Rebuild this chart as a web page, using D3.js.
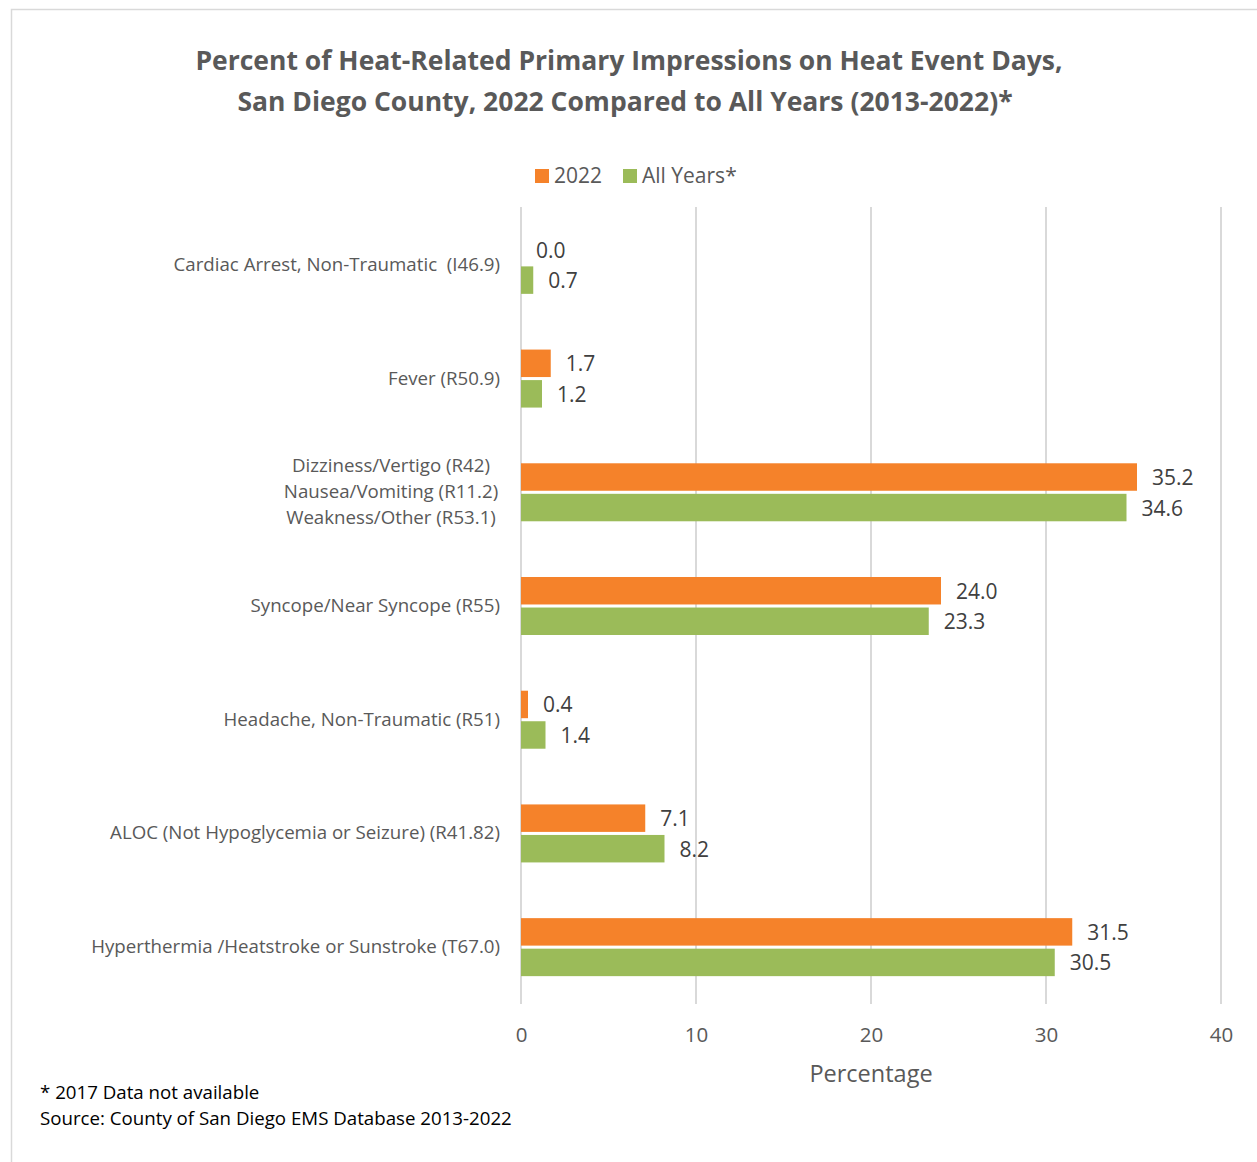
<!DOCTYPE html>
<html>
<head>
<meta charset="utf-8">
<script src="https://cdn.jsdelivr.net/npm/d3@7"></script>
<style>
  body { margin: 0; background: #fff; }
  text { font-family: "Open Sans", sans-serif; }
</style>
</head>
<body>
<script>
// categories (top to bottom)
var categories = [
  "Cardiac Arrest, Non-Traumatic  (I46.9)",
  "Fever (R50.9)",
  "Dizziness/Vertigo (R42)\nNausea/Vomiting (R11.2)\nWeakness/Other (R53.1)",
  "Syncope/Near Syncope (R55)",
  "Headache, Non-Traumatic (R51)",
  "ALOC (Not Hypoglycemia or Seizure) (R41.82)",
  "Hyperthermia /Heatstroke or Sunstroke (T67.0)"
];
var series = ["2022", "All Years*"];
var values2022 = [0.0, 1.7, 35.2, 24.0, 0.4, 7.1, 31.5];
var valuesAll = [0.7, 1.2, 34.6, 23.3, 1.4, 8.2, 30.5];
var xTicks = [0, 10, 20, 30, 40];

var width = 1257, height = 1162;
var colors = { "2022": "#F5822A", "All Years*": "#9BBB59" };
var textGray = "#595959";

var svg = d3.select("body").append("svg")
  .attr("width", width)
  .attr("height", height);

// outer border
svg.append("rect")
  .attr("x", 11.5).attr("y", 9.5)
  .attr("width", 1260).attr("height", 1170)
  .style("fill", "none")
  .style("stroke", "#d9d9d9")
  .style("stroke-width", 1.5);

var x = d3.scaleLinear().domain([0, 40]).range([521, 1221]);
var y0 = d3.scaleBand().domain(categories).range([207, 1003]);
var groupH = 58;
var y1 = d3.scaleBand().domain(series).range([0, groupH]).paddingInner(0.1);

// title
var title = svg.append("text")
  .attr("text-anchor", "middle")
  .style("font-weight", "bold")
  .style("font-size", "26.5px")
  .style("fill", textGray);
title.append("tspan").attr("x", 629).attr("y", 70)
  .text("Percent of Heat-Related Primary Impressions on Heat Event Days,");
title.append("tspan").attr("x", 625).attr("y", 111)
  .text("San Diego County, 2022 Compared to All Years (2013-2022)*");

// legend
var legend = svg.append("g");
var legendX = [535, 623];
series.forEach(function(s, i) {
  legend.append("rect")
    .attr("x", legendX[i]).attr("y", 169)
    .attr("width", 14).attr("height", 14)
    .style("fill", colors[s]);
  legend.append("text")
    .attr("x", legendX[i] + 19).attr("y", 183)
    .style("font-size", "21px")
    .style("fill", textGray)
    .text(s);
});

// gridlines
svg.selectAll(".grid")
  .data(xTicks)
  .enter().append("line")
  .attr("class", "grid")
  .attr("x1", function(d) { return x(d); })
  .attr("x2", function(d) { return x(d); })
  .attr("y1", 207).attr("y2", 1004)
  .style("stroke", "#d9d9d9")
  .style("stroke-width", 2);

// x axis tick labels
var xAxis = d3.axisBottom(x).tickValues(xTicks).tickSize(0).tickPadding(0);
var gx = svg.append("g")
  .attr("transform", "translate(0,1027)")
  .call(xAxis);
gx.select(".domain").remove();
gx.selectAll("text")
  .style("font-family", "\"Open Sans\", sans-serif")
  .style("font-size", "20.5px")
  .style("fill", textGray);

svg.append("text")
  .attr("x", 871).attr("y", 1082)
  .attr("text-anchor", "middle")
  .style("font-size", "23.5px")
  .style("fill", textGray)
  .text("Percentage");

// category labels
categories.forEach(function(c) {
  var lines = c.split("\n");
  var cy = y0(c) + y0.bandwidth() / 2;
  var t = svg.append("text")
    .style("font-size", "18.7px")
    .style("white-space", "pre")
    .style("fill", textGray);
  if (lines.length === 1) {
    t.attr("text-anchor", "end").attr("x", 500).attr("y", cy + 7).text(c);
  } else {
    t.attr("text-anchor", "middle");
    lines.forEach(function(l, i) {
      t.append("tspan")
        .attr("x", 391)
        .attr("y", cy + 7 + (i - (lines.length - 1) / 2) * 26)
        .text(l);
    });
  }
});

// bars
var rows = categories.map(function(c, i) {
  return { cat: c, vals: [
    { s: "2022", v: values2022[i] },
    { s: "All Years*", v: valuesAll[i] }
  ]};
});

var groups = svg.selectAll(".group")
  .data(rows)
  .enter().append("g")
  .attr("class", "group")
  .attr("transform", function(d) {
    return "translate(0," + (y0(d.cat) + (y0.bandwidth() - groupH) / 2 + 1) + ")";
  });

groups.selectAll("rect")
  .data(function(d) { return d.vals; })
  .enter().append("rect")
  .attr("x", x(0))
  .attr("y", function(d) { return y1(d.s); })
  .attr("width", function(d) { return x(d.v) - x(0); })
  .attr("height", y1.bandwidth())
  .style("fill", function(d) { return colors[d.s]; });

groups.selectAll(".val")
  .data(function(d) { return d.vals; })
  .enter().append("text")
  .attr("class", "val")
  .attr("x", function(d) { return x(d.v) + 15; })
  .attr("y", function(d) { return y1(d.s) + y1.bandwidth() / 2 + 8; })
  .style("font-size", "21px")
  .style("fill", "#404040")
  .text(function(d) { return d.v.toFixed(1); });

// footnotes
svg.append("text")
  .attr("x", 40).attr("y", 1099)
  .style("font-size", "18.7px")
  .style("fill", "#000")
  .text("* 2017 Data not available");
svg.append("text")
  .attr("x", 40).attr("y", 1125)
  .style("font-size", "18.7px")
  .style("fill", "#000")
  .text("Source: County of San Diego EMS Database 2013-2022");
</script>
</body>
</html>
